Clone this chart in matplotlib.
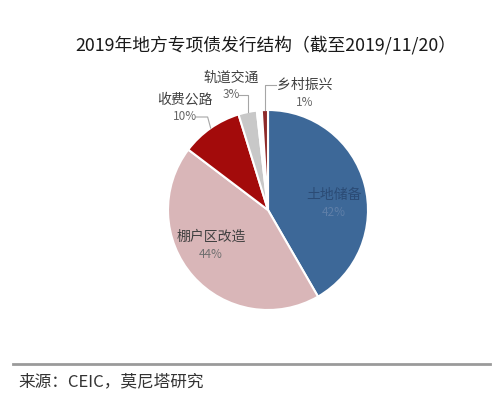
import matplotlib
matplotlib.use("Agg")
import matplotlib.pyplot as plt
import numpy as np

plt.rcParams['font.family'] = ['Noto Sans CJK SC', 'DejaVu Sans']

title = "2019年地方专项债发行结构（截至2019/11/20）"
source = "来源：CEIC，莫尼塔研究"

categories = ["土地储备", "棚户区改造", "收费公路", "轨道交通", "", "乡村振兴"]
values = [42, 44, 10, 3, 0.8, 1]
pct_labels = ["42%", "44%", "10%", "3%", "", "1%"]
colors = ["#3D6898", "#D9B6B8", "#A30B0B", "#C8C8C8", "#FFFFFF", "#8E2A2A"]

fig = plt.figure(figsize=(5, 3.96), dpi=100)

# pie axes: centre ~ (268, 210) px, radius 100 px
ax = fig.add_axes([(268 - 120) / 500, (396 - 210 - 120) / 396, 240 / 500, 240 / 396])
wedges, _ = ax.pie(values, colors=colors, startangle=90, counterclock=False,
                   wedgeprops=dict(edgecolor="white", linewidth=1.5))
ax.set_xlim(-1.2, 1.2)
ax.set_ylim(-1.2, 1.2)
ax.axis("off")

def edge_point(w, r=1.0):
    a = np.deg2rad((w.theta1 + w.theta2) / 2)
    return r * np.cos(a), r * np.sin(a)

lbl_col = "#404040"
pct_col = "#666666"

# inside labels
inside = {0: (0.66, 0.06, "#2B4B75", "#5F7FA8"), 1: (-0.57, -0.36, "#404040", "#707070")}
for i, (x, y, c1, c2) in inside.items():
    ax.text(x, y + 0.09, categories[i], ha="center", va="center", fontsize=10, color=c1)
    ax.text(x, y - 0.08, pct_labels[i], ha="center", va="center", fontsize=8.5, color=c2)

# outside labels with leader lines
outside = {2: (-0.83, 1.01), 3: (-0.37, 1.23), 5: (0.37, 1.16)}
for i, (x, y) in outside.items():
    ax.text(x, y + 0.09, categories[i], ha="center", va="center", fontsize=10,
            color=lbl_col, clip_on=False)
    ax.text(x, y - 0.08, pct_labels[i], ha="center", va="center", fontsize=8.5,
            color=pct_col, clip_on=False)

lc = "#A6A6A6"
ex, ey = edge_point(wedges[2])
ax.plot([-0.72, ex - 0.03, ex], [0.93, 0.93, ey], color=lc, lw=0.8, clip_on=False)
ex, ey = edge_point(wedges[3])
ax.plot([-0.29, ex, ex], [1.15, 1.15, ey], color=lc, lw=0.8, clip_on=False)
ex, ey = edge_point(wedges[5])
ax.plot([ex, ex, 0.08], [ey, 1.25, 1.25], color=lc, lw=0.8, clip_on=False)

fig.text(266 / 500, 1 - 45 / 396, title, ha="center", va="center", fontsize=12.8,
         fontweight="medium", color="#1A1A1A")

# bottom rule and source
fig.add_artist(plt.Line2D([13 / 500, 490 / 500], [1 - 364 / 396] * 2, color="#9A9A9A", lw=2))
fig.text(18 / 500, 1 - 382 / 396, source, ha="left", va="center", fontsize=12, color="#333333")

fig.savefig("out.png", dpi=100)
